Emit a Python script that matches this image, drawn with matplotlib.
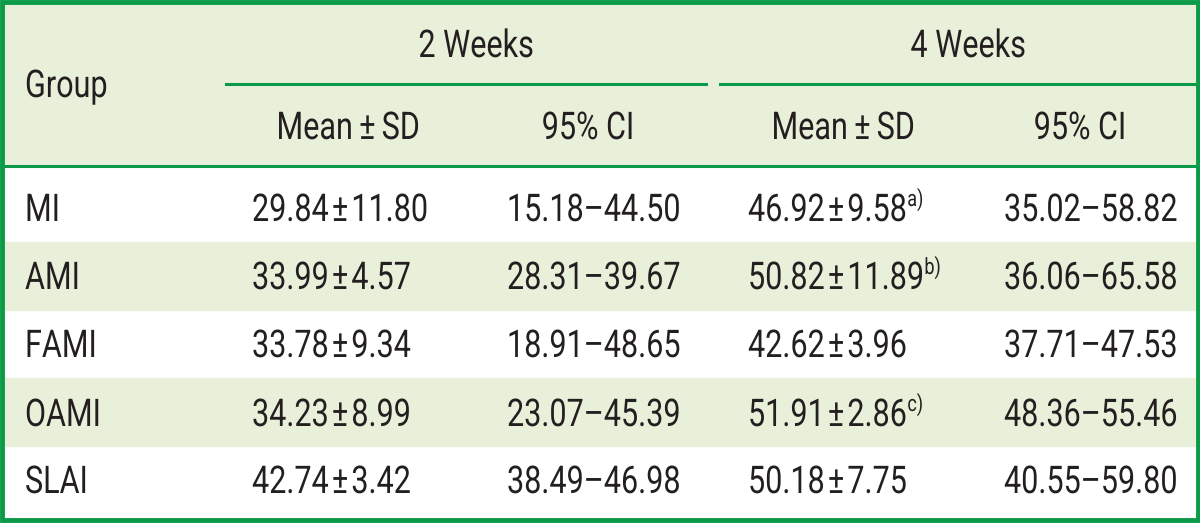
import matplotlib
matplotlib.use("Agg")
import matplotlib.pyplot as plt
from matplotlib.patches import Rectangle
from matplotlib import patheffects
from matplotlib.transforms import Affine2D

plt.rcParams['font.family'] = ['Roboto', 'DejaVu Sans']

groups = ["MI", "AMI", "FAMI", "OAMI", "SLAI"]
mean_2w = ["29.84\u200a\u00b1\u200a11.80", "33.99\u200a\u00b1\u200a4.57", "33.78\u200a\u00b1\u200a9.34",
           "34.23\u200a\u00b1\u200a8.99", "42.74\u200a\u00b1\u200a3.42"]
ci_2w = ["15.18\u201344.50", "28.31\u201339.67", "18.91\u201348.65", "23.07\u201345.39", "38.49\u201346.98"]
mean_4w = ["46.92\u200a\u00b1\u200a9.58", "50.82\u200a\u00b1\u200a11.89", "42.62\u200a\u00b1\u200a3.96",
           "51.91\u200a\u00b1\u200a2.86", "50.18\u200a\u00b1\u200a7.75"]
sup_4w = ["a)", "b)", "", "c)", ""]
ci_4w = ["35.02\u201358.82", "36.06\u201365.58", "37.71\u201347.53", "48.36\u201355.46", "40.55\u201359.80"]
spans = ["2 Weeks", "4 Weeks"]
sub_heads = ["Mean\u2009\u00b1\u2009SD", "95% CI", "Mean\u2009\u00b1\u2009SD", "95% CI"]

green = "#0a9a48"
pale = "#e9f0da"
ink = "#231f20"
fs = 22
SY = 1.25  # vertical stretch so Roboto looks like the condensed face


class Stretch(patheffects.AbstractPathEffect):
    def __init__(self, y0, sy=SY):
        super().__init__()
        self.y0 = y0
        self.sy = sy

    def draw_path(self, renderer, gc, tpath, affine, rgbFace=None):
        aff = affine + Affine2D().translate(0, -self.y0).scale(1, self.sy).translate(0, self.y0)
        renderer.draw_path(gc, tpath, aff, rgbFace)


fig = plt.figure(figsize=(12, 5.24), dpi=100)
ax = fig.add_axes([0, 0, 1, 1])
ax.set_xlim(0, 1200)
ax.set_ylim(524, 0)
ax.axis("off")


def put(x, y, s, ha="left", size=fs):
    # y is the baseline
    t = ax.text(x, y, s, fontsize=size, color=ink, va="baseline", ha=ha)
    y0 = ax.transData.transform((x, y))[1]
    t.set_path_effects([Stretch(y0)])
    return t


# header background and striped rows
ax.add_patch(Rectangle((0, 0), 1200, 166, color=pale, zorder=0))
row_top = [166, 242, 310, 378, 446]
row_bot = [242, 310, 378, 446, 520]
baselines = [221, 289, 357, 426, 493]
for i in range(len(groups)):
    if i % 2 == 1:
        ax.add_patch(Rectangle((0, row_top[i]), 1200, row_bot[i] - row_top[i], color=pale, zorder=0))

# rules
ax.plot([226, 706], [84, 84], color=green, lw=2.2)
ax.plot([720, 1198], [84, 84], color=green, lw=2.2)
ax.plot([0, 1200], [166, 166], color=green, lw=2.2)
ax.add_patch(Rectangle((2, 2), 1196, 518, fill=False, ec=green, lw=3.5, zorder=5))

# header text
put(25, 97, "Group")
put(476, 57, spans[0], ha="center")
put(968, 57, spans[1], ha="center")
for x, s in zip([348, 588, 843, 1080], sub_heads):
    put(x, 139, s, ha="center")

renderer = fig.canvas.get_renderer()

# body
for i, g in enumerate(groups):
    y = baselines[i]
    put(25, y, g)
    put(252, y, mean_2w[i])
    put(507, y, ci_2w[i])
    t = put(748, y, mean_4w[i])
    if sup_4w[i]:
        w = t.get_window_extent(renderer).width
        put(748 + w + 1, y - 15, sup_4w[i], size=13)
    put(1004, y, ci_4w[i])

fig.savefig("out.png", dpi=100)
